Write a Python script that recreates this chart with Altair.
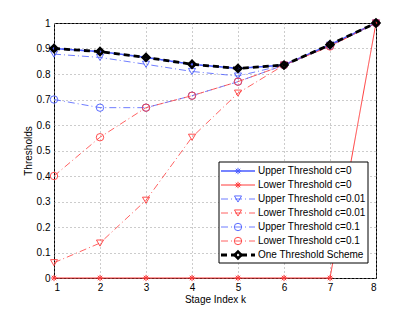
import altair as alt
import pandas as pd

k = [1, 2, 3, 4, 5, 6, 7, 8]
series_names = [
    "Upper Threshold c=0",
    "Lower Threshold c=0",
    "Upper Threshold c=0.01",
    "Lower Threshold c=0.01",
    "Upper Threshold c=0.1",
    "Lower Threshold c=0.1",
    "One Threshold Scheme",
]
upper_c0 = [0.900, 0.888, 0.865, 0.838, 0.822, 0.835, 0.915, 1.0]
lower_c0 = [0.0, 0.0, 0.0, 0.0, 0.0, 0.0, 0.0, 1.0]
upper_c001 = [0.878, 0.865, 0.838, 0.810, 0.792, 0.835, 0.913, 1.0]
lower_c001 = [0.060, 0.137, 0.305, 0.552, 0.725, 0.835, 0.910, 1.0]
upper_c01 = [0.700, 0.668, 0.668, 0.715, 0.770, 0.835, 0.910, 1.0]
lower_c01 = [0.400, 0.552, 0.668, 0.715, 0.770, 0.835, 0.908, 1.0]
one_threshold = [0.900, 0.888, 0.865, 0.838, 0.822, 0.835, 0.915, 1.0]
y_ticks = [0, 0.1, 0.2, 0.3, 0.4, 0.5, 0.6, 0.7, 0.8, 0.9, 1.0]

values = [upper_c0, lower_c0, upper_c001, lower_c001, upper_c01, lower_c01, one_threshold]

BLUE = "#4a5cff"
RED = "#ff3b3b"
STAR = "M-1,0L1,0M0,-1L0,1M-0.7,-0.7L0.7,0.7M-0.7,0.7L0.7,-0.7"

styles = [
    dict(color=BLUE, dash=[1, 0], shape=STAR, lw=1.6, mw=1.0, size=40),
    dict(color=RED, dash=[1, 0], shape=STAR, lw=1.0, mw=1.0, size=40),
    dict(color=BLUE, dash=[7, 3, 1, 3], shape="triangle-down", lw=0.8, mw=0.9, size=50),
    dict(color=RED, dash=[7, 3, 1, 3], shape="triangle-down", lw=0.8, mw=0.9, size=50),
    dict(color=BLUE, dash=[7, 3, 1, 3], shape="circle", lw=0.8, mw=0.9, size=55),
    dict(color=RED, dash=[7, 3, 1, 3], shape="circle", lw=0.8, mw=0.9, size=55),
    dict(color="black", dash=[6, 4], shape="diamond", lw=2.8, mw=2.6, size=45),
]

leg_df = pd.DataFrame({"series": series_names})
x_scale = alt.Scale(domain=[1, 8], nice=False)
y_scale = alt.Scale(domain=[0, 1], nice=False)
leg_scale = alt.Scale(type="point", domain=series_names, range=[148, 232], padding=0)

layers = []
for i, (name, vals, st) in enumerate(zip(series_names, values, styles)):
    d = pd.DataFrame({"k": k, "value": vals})
    if i == 0:
        x_line = alt.X("k:Q", scale=x_scale, axis=alt.Axis(values=k, title="Stage Index k", format="d"))
        y_line = alt.Y("value:Q", scale=y_scale, axis=alt.Axis(values=y_ticks, title="Thresholds", format="~g"))
    else:
        x_line = alt.X("k:Q", scale=x_scale)
        y_line = alt.Y("value:Q", scale=y_scale, axis=None)
    layers.append(alt.Chart(d).mark_line(color=st["color"], strokeDash=st["dash"], strokeWidth=st["lw"]).encode(
        x=x_line, y=y_line))
    layers.append(alt.Chart(d).mark_point(color=st["color"], shape=st["shape"], size=st["size"],
                                          strokeWidth=st["mw"], filled=False, opacity=1).encode(
        x=alt.X("k:Q", scale=x_scale), y=alt.Y("value:Q", scale=y_scale, axis=None)))

leg_box = alt.Chart(pd.DataFrame({"a": [0]})).mark_rect(fill="white", stroke="black", strokeWidth=1).encode(
    x=alt.value(165), x2=alt.value(314), y=alt.value(139), y2=alt.value(240)
)
layers.append(leg_box)
for name, st in zip(series_names, styles):
    ld = leg_df[leg_df["series"] == name]
    ly = alt.Y("series:N", scale=leg_scale, axis=None)
    layers.append(alt.Chart(ld).mark_rule(color=st["color"], strokeDash=st["dash"], strokeWidth=st["lw"]).encode(
        x=alt.value(167), x2=alt.value(201), y=ly))
    layers.append(alt.Chart(ld).mark_point(color=st["color"], shape=st["shape"], size=st["size"],
                                           strokeWidth=st["mw"], filled=False, opacity=1).encode(
        x=alt.value(184), y=ly))
layers.append(alt.Chart(leg_df).mark_text(align="left", baseline="middle", fontSize=10,
                                          font="Liberation Sans", color="black").encode(
    x=alt.value(204), y=alt.Y("series:N", scale=leg_scale, axis=None), text="series:N"))

chart = alt.layer(*layers).resolve_scale(
    y="independent"
).properties(
    width=322, height=255,
    autosize=alt.AutoSizeParams(type="none"),
    padding={"left": 46, "top": 15, "right": 30, "bottom": 30},
).configure_view(
    stroke="black", strokeWidth=1
).configure_axis(
    labelFont="Liberation Sans", titleFont="Liberation Sans",
    labelFontSize=10, titleFontSize=10, titleFontWeight="normal",
    labelColor="black", titleColor="black",
    grid=True, gridDash=[1, 3], gridColor="#999", gridOpacity=1, gridWidth=1,
    domain=False, ticks=False, labelPadding=4,
).configure_axisX(titlePadding=2).configure_axisY(titlePadding=3)

chart.save("out.html", embed_options={"renderer": "svg", "actions": False})
